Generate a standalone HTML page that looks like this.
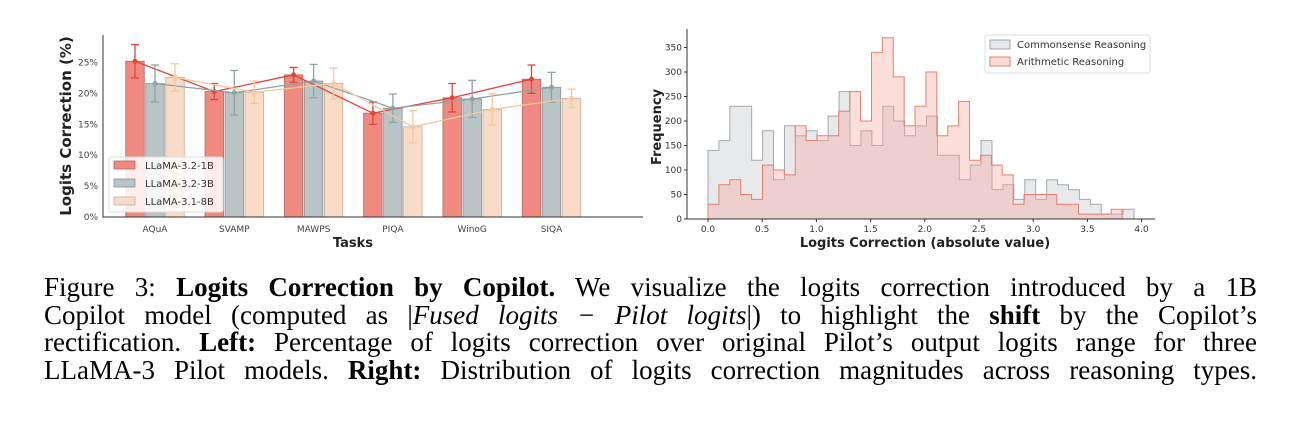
<!DOCTYPE html>
<html><head><meta charset="utf-8"><style>
body{margin:0;background:#fff;width:1301px;height:432px;overflow:hidden;position:relative}
svg{position:absolute;left:0;top:0}
.cap{position:absolute;left:44px;width:1213px;font-family:"Liberation Serif",serif;font-size:27px;line-height:27.5px;text-align:justify;text-align-last:justify;color:#000;white-space:nowrap}
</style></head><body>
<svg width="1301" height="250" font-family="DejaVu Sans, sans-serif">
<g id="left"></g>
<g id="right"></g>
</svg>
<div class="cap" style="top:274px">Figure 3: <b>Logits Correction by Copilot.</b> We visualize the logits correction introduced by a 1B</div>
<div class="cap" style="top:301.5px">Copilot model (computed as |<i>Fused logits − Pilot logits</i>|) to highlight the <b>shift</b> by the Copilot’s</div>
<div class="cap" style="top:329px">rectification. <b>Left:</b> Percentage of logits correction over original Pilot’s output logits range for three</div>
<div class="cap" style="top:356.5px">LLaMA-3 Pilot models. <b>Right:</b> Distribution of logits correction magnitudes across reasoning types.</div>
<script>
const tasks=["AQuA","SVAMP","MAWPS","PIQA","WinoG","SIQA"];
const models=["LLaMA-3.2-1B","LLaMA-3.2-3B","LLaMA-3.1-8B"];
const v1B=[25.2,20.3,23.0,16.8,19.3,22.3];
const e1B=[2.7,1.3,1.2,1.8,2.3,2.3];
const v3B=[21.6,20.1,22.0,17.6,19.1,21.0];
const e3B=[3.0,3.6,2.7,2.3,3.0,2.4];
const v8B=[22.6,20.2,21.6,14.6,17.4,19.2];
const e8B=[2.2,1.8,2.5,2.6,2.5,1.5];
const yTicksL=[0,5,10,15,20,25];
const commonsense=[140,160,230,230,120,180,80,190,170,180,160,210,260,150,180,150,230,200,170,190,210,130,130,80,110,160,60,70,40,80,40,80,70,60,40,30,10,10,20];
const arithmetic=[30,70,80,50,40,110,100,90,190,160,170,170,220,260,200,340,370,290,190,230,300,170,190,240,120,130,110,90,30,50,50,50,30,30,10,10,10,20];
const commonsenseMax=3.93, arithmeticMax=3.82;
const yTicksR=[0,50,100,150,200,250,300,350];
const xTicksR=[0,0.5,1,1.5,2,2.5,3,3.5,4];
const NS="http://www.w3.org/2000/svg";
function mk(p,t,a,txt){const e=document.createElementNS(NS,t);for(const k in a)e.setAttribute(k,a[k]);if(txt!==undefined)e.textContent=txt;p.appendChild(e);return e;}
// LEFT
const L=document.getElementById('left');
const ly=v=>217-v*6.18, lx=i=>155+79.3*i;
yTicksL.forEach(t=>{const e=mk(L,'text',{x:98,y:ly(t)+3,'font-size':9,fill:'#444','text-anchor':'end'},t+'%');

});
tasks.forEach((t,i)=>{const e=mk(L,'text',{x:lx(i),y:232,'font-size':9,fill:'#444','text-anchor':'middle'},t);

});
const ser=[[v1B,e1B,'#f0897f','#b56a62','#e0473b'],[v3B,e3B,'#b9c4c6','#889495','#8fa3a3'],[v8B,e8B,'#f9dcc7','#c9ad98','#f5c89f']];
ser.forEach((s,k)=>{const off=(k-1)*20;
s[0].forEach((v,i)=>{const b=mk(L,'rect',{x:lx(i)+off-9.25,y:ly(v),width:18.5,height:ly(0)-ly(v),fill:s[2],stroke:s[3],'stroke-width':0.8});

});});
ser.forEach((s,k)=>{const off=(k-1)*20;
const pts=s[0].map((v,i)=>(lx(i)+off)+','+ly(v)).join(' ');
const pl=mk(L,'polyline',{points:pts,fill:'none',stroke:s[4],'stroke-width':1.3});


s[0].forEach((v,i)=>{const x=lx(i)+off,t=ly(v+s[1][i]),b=ly(v-s[1][i]);
mk(L,'path',{d:`M${x},${t}V${b}M${x-4},${t}H${x+4}M${x-4},${b}H${x+4}`,stroke:s[4],'stroke-width':1.3,fill:'none'});
const c=mk(L,'circle',{cx:x,cy:ly(v),r:2.5,fill:s[4]});

});});
mk(L,'path',{d:'M103,35V217H643',stroke:'#333','stroke-width':1,fill:'none'});
const yt=mk(L,'text',{x:0,y:0,'font-size':15,'font-weight':'bold',fill:'#222','text-anchor':'middle',transform:'translate(71,126) rotate(-90)'},'Logits Correction (%)');

const xt=mk(L,'text',{x:353,y:247,'font-size':13,'font-weight':'bold',fill:'#222','text-anchor':'middle'},'Tasks');

const lg=mk(L,'g',{});
mk(lg,'rect',{x:109,y:157,width:114,height:55,fill:'#fff','fill-opacity':0.85,stroke:'#ddd',rx:2});
models.forEach((m,k)=>{mk(lg,'rect',{x:114,y:161+k*18,width:21,height:8,fill:ser[k][2],stroke:ser[k][3],'stroke-width':0.8});
const e=mk(lg,'text',{x:145,y:169+k*18,'font-size':10,fill:'#333'},m);
});
// RIGHT
const R=document.getElementById('right');
const rx=v=>708+v*108.4, ry=v=>219-v*0.49;
function stepPath(vals,max){const w=max/vals.length;let d=`M${rx(0)},${ry(0)}`;vals.forEach((v,i)=>{d+=`V${ry(v)}H${rx((i+1)*w)}`;});return d+`V${ry(0)}Z`;}
const g1=mk(R,'path',{d:stepPath(commonsense,commonsenseMax),fill:'#c9ced3','fill-opacity':0.45,stroke:'#a3a9ad','stroke-width':1});

const g2=mk(R,'path',{d:stepPath(arithmetic,arithmeticMax),fill:'#f6a89e','fill-opacity':0.38,stroke:'#e8806e','stroke-width':1});

mk(R,'path',{d:'M687,29V219H1155',stroke:'#333','stroke-width':1,fill:'none'});
yTicksR.forEach(t=>{mk(R,'line',{x1:684,x2:687,y1:ry(t),y2:ry(t),stroke:'#333'});
const e=mk(R,'text',{x:682,y:ry(t)+3,'font-size':9,fill:'#333','text-anchor':'end'},t);
});
xTicksR.forEach(t=>{mk(R,'line',{x1:rx(t),x2:rx(t),y1:219,y2:222,stroke:'#333'});
const e=mk(R,'text',{x:rx(t),y:232,'font-size':9,fill:'#333','text-anchor':'middle'},t.toFixed(1));
});
const fy=mk(R,'text',{x:0,y:0,'font-size':13,'font-weight':'bold',fill:'#222','text-anchor':'middle',transform:'translate(661,127) rotate(-90)'},'Frequency');

const fx=mk(R,'text',{x:925,y:247,'font-size':13,'font-weight':'bold',fill:'#222','text-anchor':'middle'},'Logits Correction (absolute value)');

const rl=mk(R,'g',{});
mk(rl,'rect',{x:985,y:35,width:165,height:38,fill:'#fff','fill-opacity':0.85,stroke:'#ddd',rx:2});
[['Commonsense Reasoning','#e5e8ea','#a3a9ad'],['Arithmetic Reasoning','#fbdcd6','#e8806e']].forEach((l,k)=>{
mk(rl,'rect',{x:990,y:40+k*17,width:20,height:9,fill:l[1],stroke:l[2]});
const e=mk(rl,'text',{x:1017,y:48+k*17,'font-size':10,fill:'#333'},l[0]);
});
</script>
</body></html>
